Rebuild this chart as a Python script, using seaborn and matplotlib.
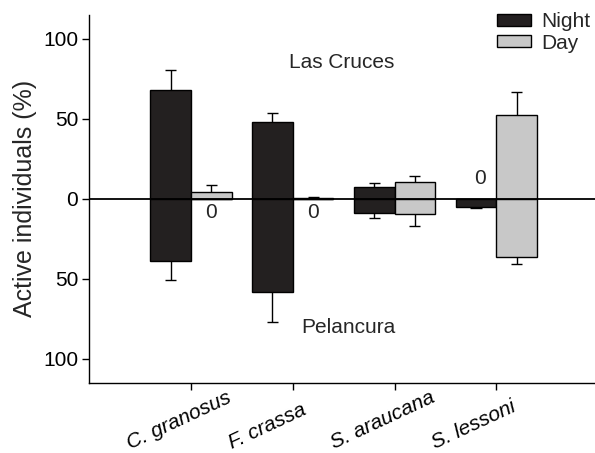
import matplotlib
matplotlib.use("Agg")
import matplotlib.pyplot as plt
import matplotlib.patches as mpatches
import matplotlib.transforms as mtransforms
import numpy as np
import pandas as pd
import seaborn as sns

species = ["C. granosus", "F. crassa", "S. araucana", "S. lessoni"]
periods = ["Night", "Day"]

# Las Cruces (drawn upward)
cruces_night = [68, 48, 7.5, 0]
cruces_day = [4, 0.5, 10.5, 52.5]
cruces_night_err = [12.5, 6, 2.5, 0]
cruces_day_err = [4.5, 0.5, 4, 14.5]

# Pelancura (drawn downward)
pel_night = [39, 58.5, 9, 5]
pel_day = [0, 0, 9.5, 36.5]
pel_night_err = [12, 18.5, 3, 1]
pel_day_err = [0, 0, 7.5, 4.3]

ytick_values = [100, 50, 0, -50, -100]
ytick_labels = ["100", "50", "0", "50", "100"]

colors = {"Night": "#231f20", "Day": "#c8c8c8"}
FS = 15

sns.set_style("ticks")
plt.rcParams["font.family"] = ["Liberation Sans", "DejaVu Sans"]

fig = plt.figure(figsize=(5.95, 4.53), dpi=100)
ax = fig.add_axes([0.150, 0.155, 0.85, 0.812])


def long_frame(night, day, sign):
    rows = []
    for s, n, d in zip(species, night, day):
        rows.append({"species": s, "period": "Night", "value": sign * n})
        rows.append({"species": s, "period": "Day", "value": sign * d})
    return pd.DataFrame(rows)


for night, day, sign in [(cruces_night, cruces_day, 1), (pel_night, pel_day, -1)]:
    sns.barplot(data=long_frame(night, day, sign), x="species", y="value",
                hue="period", order=species, hue_order=periods,
                palette=colors, edgecolor="black", linewidth=1.0,
                errorbar=None, width=0.8, dodge=True, legend=False, ax=ax)

# one-sided error bars, pointing away from zero
xs = np.arange(len(species))
offsets = {"Night": -0.2, "Day": 0.2}
series = [
    ("Night", cruces_night, cruces_night_err, 1),
    ("Day", cruces_day, cruces_day_err, 1),
    ("Night", pel_night, pel_night_err, -1),
    ("Day", pel_day, pel_day_err, -1),
]
for period, vals, errs, sign in series:
    for x, v, e in zip(xs, vals, errs):
        if v == 0 and e == 0:
            continue
        y = sign * v
        xc = x + offsets[period]
        ax.vlines(xc, y, y + sign * e, color="black", lw=1.0, zorder=3)
        ax.hlines(y + sign * e, xc - 0.055, xc + 0.055, color="black", lw=1.0, zorder=3)

ax.axhline(0, color="black", lw=1.3, zorder=4)

# zero markers for absent activity
ax.text(0 + offsets["Day"], -8.5, f"{pel_day[0]:g}", ha="center", va="center", fontsize=FS)
ax.text(1 + offsets["Day"], -8.5, f"{pel_day[1]:g}", ha="center", va="center", fontsize=FS)
ax.text(3 + offsets["Night"] + 0.04, 12.5, f"{cruces_night[3]:g}", ha="center", va="center",
        fontsize=FS)

ax.text(1.48, 85.5, "Las Cruces", ha="center", va="center", fontsize=FS)
ax.text(1.55, -80.5, "Pelancura", ha="center", va="center", fontsize=FS)

ax.set_xlim(-1, 3.97)
ax.set_ylim(-115, 115)
ax.set_yticks(ytick_values)
ax.set_yticklabels(ytick_labels, fontsize=FS)
ax.set_xticks(xs)
ax.set_xticklabels(species, fontsize=FS, style="italic", rotation=25,
                   ha="left", va="baseline", rotation_mode="anchor")
ax.set_xlabel("")
ax.set_ylabel("Active individuals (%)", fontsize=18, labelpad=4)
ax.tick_params(axis="both", direction="out", length=5, width=1, colors="black")
ax.tick_params(axis="x", pad=4)
ax.tick_params(axis="y", pad=3)

# start each slanted species name down and to the left of its tick
shift = mtransforms.ScaledTranslation(-0.61, -0.54, fig.dpi_scale_trans)
for lbl in ax.get_xticklabels():
    lbl.set_transform(lbl.get_transform() + shift)

for side in ["top", "right"]:
    ax.spines[side].set_visible(False)
for side in ["left", "bottom"]:
    ax.spines[side].set_linewidth(1.0)
    ax.spines[side].set_color("black")

handles = [mpatches.Patch(facecolor=colors[p], edgecolor="black", linewidth=1.0, label=p)
           for p in periods]
ax.legend(handles=handles, loc="upper right", bbox_to_anchor=(0.99, 1.008),
          frameon=False, fontsize=FS, handlelength=1.65, handleheight=0.5,
          handletextpad=0.45, labelspacing=0.12, borderaxespad=0, borderpad=0)

fig.savefig("out.png", dpi=100)
